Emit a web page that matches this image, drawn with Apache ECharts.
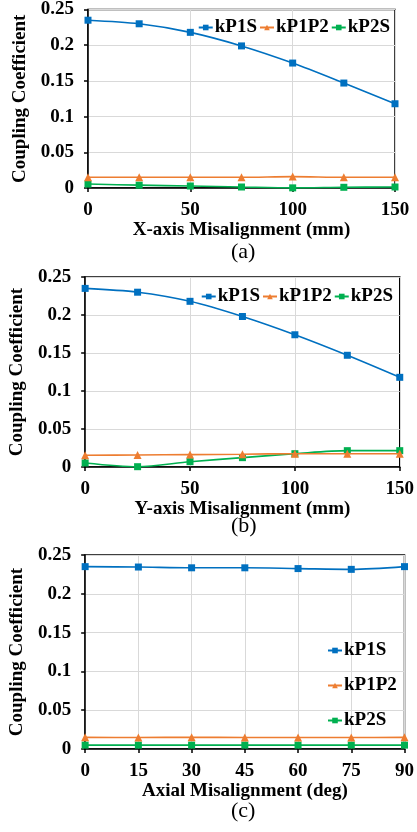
<!DOCTYPE html>
<html>
<head>
<meta charset="utf-8">
<script src="https://cdn.jsdelivr.net/npm/echarts@6/dist/echarts.min.js"></script>
<style>
  html, body { margin: 0; padding: 0; background: #fff; }
  #chart { width: 417px; height: 832px; }
</style>
</head>
<body>
<div id="chart"></div>
<script>
// x values
const xMm = [0, 25, 50, 75, 100, 125, 150];
const xDeg = [0, 15, 30, 45, 60, 75, 90];

// (a) X-axis misalignment
const aP1S = [0.235, 0.230, 0.218, 0.199, 0.175, 0.147, 0.118];
const aP1P2 = [0.015, 0.015, 0.015, 0.015, 0.016, 0.015, 0.015];
const aP2S = [0.0055, 0.004, 0.0028, 0.0014, 0.0002, 0.001, 0.0014];

// (b) Y-axis misalignment
const bP1S = [0.235, 0.230, 0.218, 0.198, 0.174, 0.147, 0.118];
const bP1P2 = [0.0155, 0.0158, 0.0163, 0.0168, 0.0175, 0.0175, 0.0175];
const bP2S = [0.0053, 0.0004, 0.007, 0.0123, 0.0175, 0.0215, 0.0215];

// (c) axial misalignment
const cP1S = [0.235, 0.2345, 0.2335, 0.2335, 0.2325, 0.2315, 0.235];
const cP1P2 = [0.015, 0.0148, 0.0152, 0.0148, 0.0148, 0.0148, 0.015];
const cP2S = [0.005, 0.005, 0.005, 0.005, 0.005, 0.005, 0.005];

const yTicks = [0, 0.05, 0.1, 0.15, 0.2, 0.25];
const names = ['kP1S', 'kP1P2', 'kP2S'];
const colors = ['#0070C0', '#ED7D31', '#00B050'];
const symbols = ['rect', 'triangle', 'rect'];

const FONT = 'Liberation Serif';
const gridLine = { show: true, lineStyle: { color: '#d9d9d9', width: 1 } };

let chart = echarts.init(document.getElementById('chart'));

function mkX(idx, max, interval, title) {
  return {
    type: 'value', gridIndex: idx, min: 0, max: max, interval: interval,
    name: title, nameLocation: 'middle', nameGap: 31,
    nameTextStyle: { fontFamily: FONT, fontWeight: 'bold', fontSize: 19, color: '#000' },
    axisLine: { lineStyle: { color: '#000', width: 1.5 } },
    axisTick: { show: true, length: 4, lineStyle: { color: '#000', width: 1.5 } },
    axisLabel: { fontFamily: FONT, fontWeight: 'bold', fontSize: 19, color: '#000', margin: 13 },
    splitLine: gridLine
  };
}
function mkY(idx) {
  return {
    type: 'value', gridIndex: idx, min: yTicks[0], max: yTicks[yTicks.length - 1], interval: 0.05,
    name: 'Coupling Coefficient', nameLocation: 'middle', nameGap: 53,
    nameTextStyle: { fontFamily: FONT, fontWeight: 'bold', fontSize: 19, color: '#000' },
    axisLine: { show: true, lineStyle: { color: '#000', width: 1.5 } },
    axisTick: { show: true, length: 4, lineStyle: { color: '#000', width: 1.5 } },
    axisLabel: { fontFamily: FONT, fontWeight: 'bold', fontSize: 19, color: '#000', margin: 14 },
    splitLine: gridLine
  };
}
function mkSeries(idx, xs, list) {
  return list.map((vals, i) => ({
    name: names[i], type: 'line', xAxisIndex: idx, yAxisIndex: idx,
    data: xs.map((x, k) => [x, vals[k]]),
    smooth: 0.3,
    symbol: symbols[i], symbolSize: i === 1 ? 8 : 7,
    lineStyle: { color: colors[i], width: 1.6 },
    itemStyle: { color: colors[i] },
    z: 3 - i
  }));
}
const legendText = { fontFamily: FONT, fontWeight: 'bold', fontSize: 19, color: '#000', padding: [0, 0, 0, -3] };
function capText(label, top) {
  return { type: 'text', left: 231, top: top, style: { text: label, font: '22px "Liberation Serif"', fill: '#000' } };
}

var option = {
  animation: false,
  grid: [
    { left: 88, right: 22, top: 7, height: 181, show: true, borderColor: '#000', borderWidth: 1.5 },
    { left: 82, right: 17, top: 277, height: 190, show: true, borderColor: '#000', borderWidth: 1.5 },
    { left: 77, right: 8, top: 555, height: 194, show: true, borderColor: '#000', borderWidth: 1.5 }
  ],
  xAxis: [
    mkX(0, 150, 50, 'X-axis Misalignment (mm)'),
    mkX(1, 150, 50, 'Y-axis Misalignment (mm)'),
    mkX(2, 90, 15, 'Axial Misalignment (deg)')
  ],
  yAxis: [mkY(0), mkY(1), mkY(2)],
  legend: [
    { data: names, right: 22, top: 13, itemWidth: 14, itemHeight: 7, itemGap: 2, textStyle: legendText },
    { data: names, right: 19, top: 282, itemWidth: 14, itemHeight: 7, itemGap: 2, textStyle: legendText },
    { data: names, left: 322, top: 636, orient: 'vertical', itemWidth: 14, itemHeight: 7, itemGap: 16, textStyle: legendText }
  ],
  graphic: [capText('(a)', 241), capText('(b)', 515), capText('(c)', 800)],
  series: [].concat(
    mkSeries(0, xMm, [aP1S, aP1P2, aP2S]),
    mkSeries(1, xMm, [bP1S, bP1P2, bP2S]),
    mkSeries(2, xDeg, [cP1S, cP1P2, cP2S])
  )
};
chart.setOption(option);
</script>
</body>
</html>
